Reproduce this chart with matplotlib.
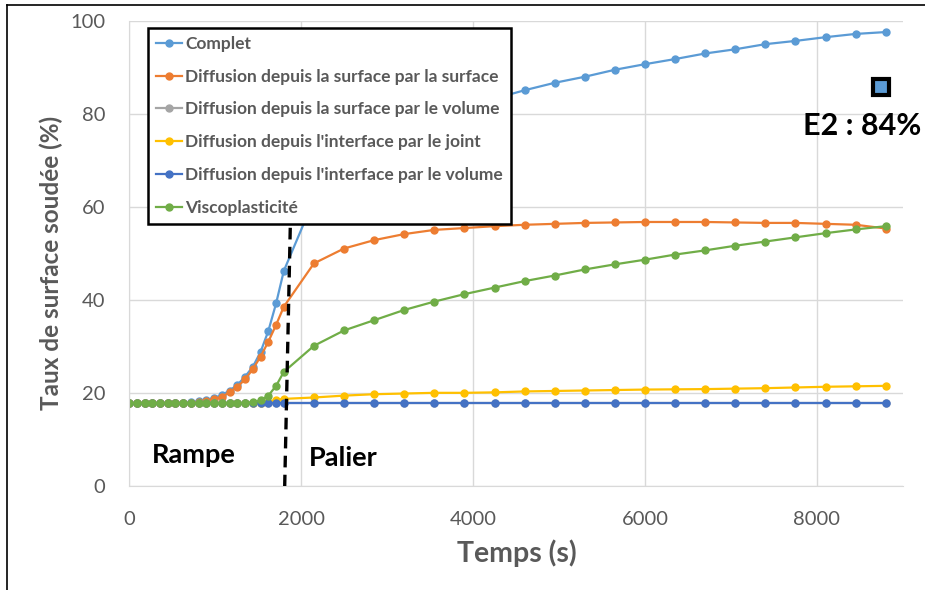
# -----------------------------------------------------------------------------------------
# import
import matplotlib
matplotlib.use('Agg')
import matplotlib.pyplot as plt
from matplotlib.lines import Line2D

# -----------------------------------------------------------------------------------------
# constant
plt.rcParams['font.family'] = ['Lato', 'DejaVu Sans']

timeS = [0, 90, 180, 270, 360, 450, 540, 630, 720, 810, 900, 990, 1080, 1170, 1260,
         1350, 1440, 1530, 1620, 1710, 1800,
         2150, 2500, 2850, 3200, 3550, 3900, 4250, 4600, 4950, 5300, 5650, 6000,
         6350, 6700, 7050, 7400, 7750, 8100, 8450, 8800]

complet = [17.9, 17.9, 17.9, 17.9, 17.9, 17.9, 17.9, 17.9, 18.1, 18.3, 18.6, 19.0, 19.6,
           20.6, 21.8, 23.6, 25.7, 28.9, 33.4, 39.3, 46.3,
           61.6, 68.5, 73.5, 77.0, 79.8, 82.0, 83.3, 85.1, 86.7, 88.0, 89.5, 90.7,
           91.8, 93.0, 93.9, 95.0, 95.7, 96.5, 97.2, 97.6]

surfSurf = [17.9, 17.9, 17.9, 17.9, 17.9, 17.9, 17.9, 17.9, 17.9, 18.1, 18.3, 18.7, 19.3,
            20.2, 21.4, 23.0, 25.2, 27.9, 31.1, 34.7, 38.6,
            47.9, 51.1, 52.9, 54.2, 55.1, 55.5, 55.9, 56.2, 56.4, 56.6, 56.7, 56.8,
            56.8, 56.8, 56.7, 56.6, 56.6, 56.4, 56.2, 55.4]

surfVol = [17.9] * 41

interJoint = [17.9, 17.9, 17.9, 17.9, 17.9, 17.9, 17.9, 17.9, 17.9, 17.9, 17.9, 17.9, 17.9,
              17.9, 17.9, 17.9, 17.9, 17.9, 18.2, 18.6, 18.8,
              19.1, 19.5, 19.8, 19.95, 20.1, 20.1, 20.2, 20.4, 20.5, 20.6, 20.7, 20.8,
              20.85, 20.9, 21.0, 21.1, 21.25, 21.4, 21.5, 21.6]

interVol = [17.9] * 41

viscoplast = [17.9, 17.9, 17.9, 17.9, 17.9, 17.9, 17.9, 17.9, 17.9, 17.9, 17.9, 17.9, 17.9,
              17.9, 17.9, 17.9, 18.1, 18.5, 19.5, 21.6, 24.6,
              30.2, 33.5, 35.7, 37.9, 39.7, 41.3, 42.7, 44.1, 45.3, 46.6, 47.7, 48.7,
              49.8, 50.7, 51.7, 52.6, 53.5, 54.4, 55.2, 55.9]

seriesNames = ['Complet',
               'Diffusion depuis la surface par la surface',
               'Diffusion depuis la surface par le volume',
               "Diffusion depuis l'interface par le joint",
               "Diffusion depuis l'interface par le volume",
               'Viscoplasticité']
seriesColors = ['#5B9BD5', '#ED7D31', '#A5A5A5', '#FFC000', '#4472C4', '#70AD47']

# end of ramp (dashed line, slightly tilted as drawn by hand)
rampEndX = [1810, 1880]
rampEndY = [0, 60]

e2Time = [8740]
e2Value = [85.8]

textGrey = '#595959'
gridGrey = '#D9D9D9'

##
# build the figure
##
fig = plt.figure(figsize=(9.25, 5.9), dpi=100)
ax = fig.add_axes([0.1395, 0.1756, 0.8367, 0.789])

allSeries = [complet, surfSurf, surfVol, interJoint, interVol, viscoplast]
for values, name, color in zip(allSeries, seriesNames, seriesColors):
    ax.plot(timeS, values, color=color, lw=1.6, marker='o', ms=5, label=name)

ax.plot(rampEndX, rampEndY, color='black', lw=2.4, dashes=(3.5, 2.2), zorder=3)

ax.plot(e2Time, e2Value, marker='s', ms=11, color='#5B9BD5', mec='black', mew=3,
        clip_on=False, ls='none')
ax.text(8530, 77.4, 'E2 : 84%', fontsize=22, fontweight='bold', ha='center', va='center')
ax.text(756, 6.8, 'Rampe', fontsize=19.5, fontweight='bold', ha='center', va='center')
ax.text(2490, 6.1, 'Palier', fontsize=19.5, fontweight='bold', ha='center', va='center')

ax.set_xlim(0, 9000)
ax.set_ylim(0, 100)
ax.set_xticks([0, 2000, 4000, 6000, 8000])
ax.set_yticks([0, 20, 40, 60, 80, 100])
ax.grid(True, color=gridGrey, lw=1)
ax.set_axisbelow(True)
for side in ['top', 'right']:
    ax.spines[side].set_visible(False)
for side in ['left', 'bottom']:
    ax.spines[side].set_color(gridGrey)
ax.tick_params(length=0, labelsize=14.5, labelcolor=textGrey)
ax.tick_params(axis='y', pad=17)
ax.tick_params(axis='x', pad=17.5)

ax.set_xlabel('Temps (s)', fontsize=20.5, fontweight='bold', color=textGrey)
ax.set_ylabel('Taux de surface soudée (%)', fontsize=17.5, fontweight='bold', color=textGrey)
ax.xaxis.set_label_coords(0.501, -0.113)
ax.yaxis.set_label_coords(-0.085, 0.48)

leg = ax.legend(loc='upper left', bbox_to_anchor=(148 / 925, 1 - 28 / 590),
                bbox_transform=fig.transFigure, fontsize=12.5, frameon=True,
                fancybox=False, framealpha=1, edgecolor='black', handlelength=1.5,
                labelspacing=0.97, borderpad=0.45, handletextpad=0.2, borderaxespad=0)
leg.get_frame().set_linewidth(1.8)
for txt in leg.get_texts():
    txt.set_color(textGrey)
    txt.set_fontweight('bold')
leg.set_zorder(5)

# outer frame of the picture
fig.add_artist(Line2D([7 / 925, 7 / 925], [0, 1 - 5 / 590], color='black', lw=1.2))
fig.add_artist(Line2D([7 / 925, 1], [1 - 5 / 590, 1 - 5 / 590], color='black', lw=1.2))

fig.savefig('out.png', dpi=100)
